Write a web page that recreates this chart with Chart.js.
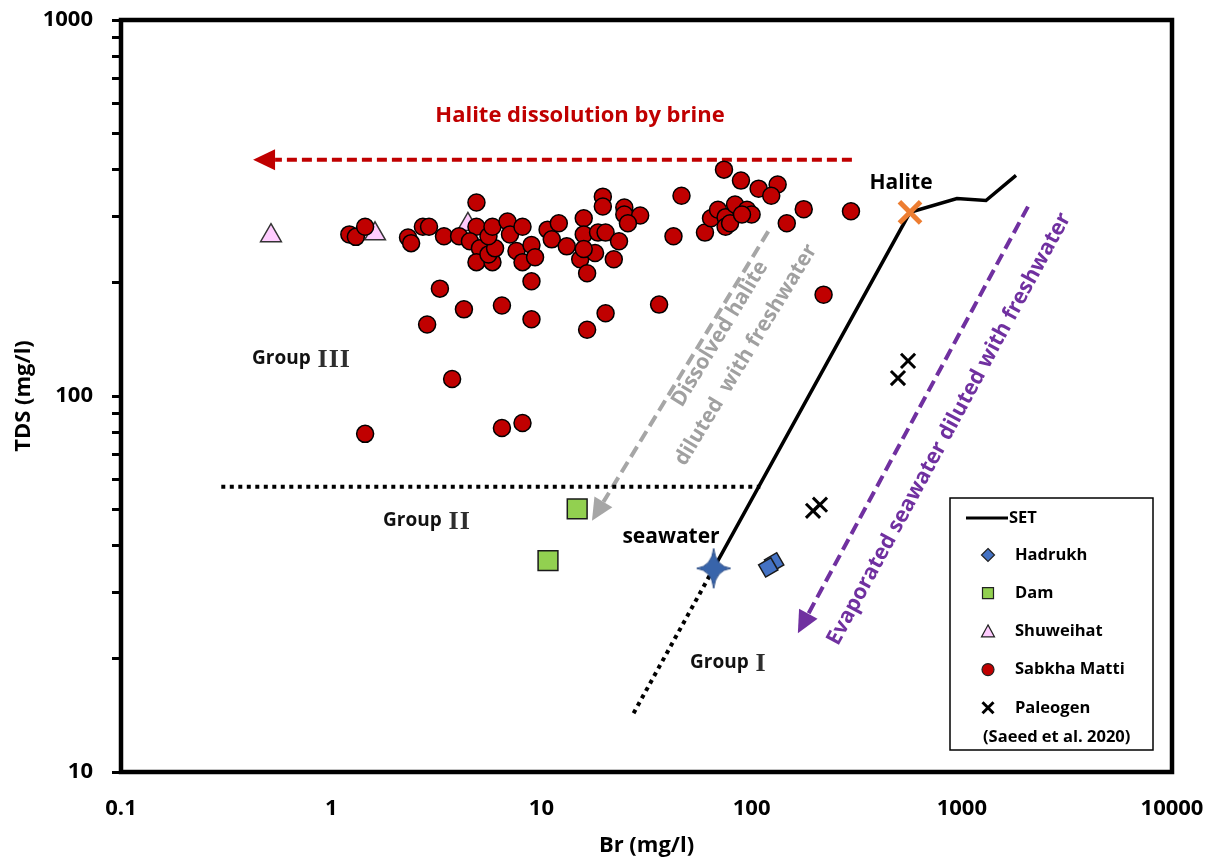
<!DOCTYPE html>
<html><head><meta charset="utf-8">
<script src="https://cdn.jsdelivr.net/npm/chart.js@4/dist/chart.umd.min.js"></script>
<style>html,body{margin:0;padding:0;background:#fff;}canvas{display:block;}</style>
</head><body>
<canvas id="c" width="1212" height="863"></canvas>
<script>
// ---------- data ----------
const xTickValues = [0.1, 1, 10, 100, 1000, 10000];
const yTickValues = [10,20,30,40,50,60,70,80,90,100,200,300,400,500,600,700,800,900,1000];
const yLabelValues = [10, 100, 1000];

const setBr  = [66, 567, 948, 1303, 1811];
const setTDS = [34.8, 308, 335, 331, 386];
const setExtBr  = [66, 27];
const setExtTDS = [34.8, 14.1];
const groupIIBr  = [0.3, 110];
const groupIITDS = [57.4, 57.4];

const hadrukhBr  = [128, 120];
const hadrukhTDS = [36.1, 35.0];
const damBr  = [14.8, 10.75];
const damTDS = [50.1, 36.5];
const shuweihatBr  = [0.517, 1.616, 4.47];
const shuweihatTDS = [267, 270, 286];
const sabkhaBr = [1.22,1.31,1.45,2.32,2.40,2.73,2.92,3.44,4.06,4.91,4.91,4.57,5.10,4.91,5.85,5.60,6.02,5.60,5.85,6.90,
  7.09,7.61,8.13,8.97,9.33,8.13,10.7,11.2,12.1,13.2,15.3,15.9,15.9,16.5,8.97,3.29,4.28,6.49,8.97,2.86,
  16.5,1.45,3.76,6.49,8.13,18.6,20.2,18.0,22.1,23.4,19.6,19.6,24.8,24.8,29.5,25.8,20.2,15.9,36.3,46.4,
  42.5,60.0,64.1,69.2,75.2,83.4,95.1,100,75.2,73.9,89.0,108,133,124,147,177,297,220,79,90];
const sabkhaTDS = [269,265,282,264,255,282,282,266,266,327,282,258,247,227,227,238,247,266,282,291,
  269,243,227,252,234,282,277,261,288,250,231,297,269,212,202,193,170,174,160,155,
  150,79.3,111,82.2,84.8,272,272,240,231,258,339,319,317,304,302,288,166,246,175,341,
  266,272,297,313,299,323,313,304,282,400,374,356,365,341,288,314,310,186,288,304];
const paleogenBr  = [555, 497, 196, 211.5];
const paleogenTDS = [124, 111.6, 49.5, 51.4];
const seawaterBr = [66];
const seawaterTDS = [34.8];
const haliteBr = [567];
const haliteTDS = [308];

// annotation arrows (data units: Br, TDS)
const brineArrowBr  = [300, 0.425];
const brineArrowTDS = [425, 425];
const grayArrowBr  = [120, 17.4];
const grayArrowTDS = [274, 46.6];
const purpleArrowBr  = [2065, 166];
const purpleArrowTDS = [319, 23.4];

// ---------- helpers ----------
const FONT = "'Open Sans', sans-serif";
const pts = (xa, ya) => xa.map((v, i) => ({x: v, y: ya[i]}));
const zeroPad = s => { s.paddingTop = 0; s.paddingBottom = 0; s.paddingLeft = 0; s.paddingRight = 0; };

function makeStar() {
  const c = document.createElement('canvas');
  c.width = 36; c.height = 42;
  const g = c.getContext('2d');
  const cx = 18, cy = 21;
  g.beginPath();
  g.moveTo(cx, 1);
  g.quadraticCurveTo(cx + 2, cy - 2, 35, cy);
  g.quadraticCurveTo(cx + 2, cy + 2, cx, 41);
  g.quadraticCurveTo(cx - 2, cy + 2, 1, cy);
  g.quadraticCurveTo(cx - 2, cy - 2, cx, 1);
  g.closePath();
  g.fillStyle = '#3864AA';
  g.fill();
  g.strokeStyle = '#2A4C86';
  g.lineWidth = 1;
  g.stroke();
  return c;
}

function drawArrow(ctx, sx, sy, xa, ya, color, dash, width) {
  const x0 = sx.getPixelForValue(xa[0]), y0 = sy.getPixelForValue(ya[0]);
  const x1 = sx.getPixelForValue(xa[1]), y1 = sy.getPixelForValue(ya[1]);
  const ang = Math.atan2(y1 - y0, x1 - x0);
  const L = 22, W = 10.5;
  const bx = x1 - Math.cos(ang) * L, by = y1 - Math.sin(ang) * L;
  ctx.save();
  ctx.strokeStyle = color; ctx.lineWidth = width; ctx.setLineDash(dash); ctx.lineCap = 'butt';
  ctx.beginPath(); ctx.moveTo(x0, y0); ctx.lineTo(bx, by); ctx.stroke();
  ctx.setLineDash([]);
  ctx.fillStyle = color;
  ctx.beginPath();
  ctx.moveTo(x1, y1);
  ctx.lineTo(bx + Math.sin(ang) * W, by - Math.cos(ang) * W);
  ctx.lineTo(bx - Math.sin(ang) * W, by + Math.cos(ang) * W);
  ctx.closePath(); ctx.fill();
  ctx.restore();
}

function rotText(ctx, text, cx, cy, deg, font, color) {
  ctx.save();
  ctx.translate(cx, cy); ctx.rotate(deg * Math.PI / 180);
  ctx.font = font; ctx.fillStyle = color; ctx.textAlign = 'center'; ctx.textBaseline = 'middle';
  ctx.fillText(text, 0, 0);
  ctx.restore();
}

function groupText(ctx, word, roman, x, y) {
  ctx.save();
  ctx.textBaseline = 'middle'; ctx.textAlign = 'left';
  ctx.font = "bold 19px " + FONT; ctx.fillStyle = '#111';
  ctx.fillText(word, x, y);
  const w = ctx.measureText(word).width;
  ctx.font = "bold 26px 'Liberation Serif', serif"; ctx.fillStyle = '#2e2e2e';
  if ('letterSpacing' in ctx) ctx.letterSpacing = '1px';
  ctx.fillText(roman, x + w + 2, y + 1);
  ctx.restore();
}

function legendMarker(ctx, kind, x, y) {
  ctx.save();
  ctx.lineWidth = 1.2; ctx.strokeStyle = '#222';
  ctx.beginPath();
  if (kind === 'diamond') {
    ctx.moveTo(x, y - 6.5); ctx.lineTo(x + 6.5, y); ctx.lineTo(x, y + 6.5); ctx.lineTo(x - 6.5, y); ctx.closePath();
    ctx.fillStyle = '#4472C4'; ctx.fill(); ctx.stroke();
  } else if (kind === 'square') {
    ctx.rect(x - 5.5, y - 5.5, 11, 11); ctx.fillStyle = '#92D050'; ctx.fill(); ctx.stroke();
  } else if (kind === 'triangle') {
    ctx.moveTo(x, y - 6.5); ctx.lineTo(x + 6.5, y + 5.5); ctx.lineTo(x - 6.5, y + 5.5); ctx.closePath();
    ctx.fillStyle = '#FFCCFF'; ctx.fill(); ctx.stroke();
  } else if (kind === 'circle') {
    ctx.arc(x, y, 6, 0, Math.PI * 2); ctx.fillStyle = '#C00000'; ctx.fill(); ctx.stroke();
  } else if (kind === 'cross') {
    ctx.lineWidth = 3; ctx.strokeStyle = '#000';
    ctx.moveTo(x - 5.5, y - 5.5); ctx.lineTo(x + 5.5, y + 5.5); ctx.moveTo(x + 5.5, y - 5.5); ctx.lineTo(x - 5.5, y + 5.5); ctx.stroke();
  }
  ctx.restore();
}

const legendItems = [
  {label: 'Hadrukh', kind: 'diamond'},
  {label: 'Dam', kind: 'square'},
  {label: 'Shuweihat', kind: 'triangle'},
  {label: 'Sabkha Matti', kind: 'circle'},
  {label: 'Paleogen', kind: 'cross'}
];

const annotPlugin = {
  id: 'annot',
  beforeDatasetsDraw(chart) {
    const {ctx, scales: {x, y}} = chart;
    drawArrow(ctx, x, y, brineArrowBr, brineArrowTDS, '#C00000', [10, 5], 4);
    drawArrow(ctx, x, y, grayArrowBr, grayArrowTDS, '#A6A6A6', [12, 6], 4);
    drawArrow(ctx, x, y, purpleArrowBr, purpleArrowTDS, '#7030A0', [12, 6], 4);
  },
  afterDraw(chart) {
    const {ctx, chartArea: a} = chart;
    // frame
    ctx.save();
    ctx.strokeStyle = '#000'; ctx.lineWidth = 4.5;
    ctx.strokeRect(a.left, a.top, a.right - a.left, a.bottom - a.top);
    ctx.restore();
    // texts
    ctx.save();
    ctx.textAlign = 'center'; ctx.textBaseline = 'middle';
    ctx.font = "bold 22px " + FONT; ctx.fillStyle = '#C00000';
    ctx.fillText('Halite dissolution by brine', 580, 116);
    ctx.font = "bold 21px " + FONT; ctx.fillStyle = '#000';
    ctx.fillText('Halite', 901, 183);
    ctx.fillText('seawater', 671, 537);
    ctx.restore();
    groupText(ctx, 'Group ', 'III', 252, 359);
    groupText(ctx, 'Group ', 'II', 383, 521);
    groupText(ctx, 'Group ', 'I', 690, 663);
    rotText(ctx, 'Dissolved halite', 720, 334, -58.7, "bold 21px " + FONT, '#A0A0A0');
    rotText(ctx, 'diluted  with freshwater', 746, 355, -58.7, "bold 21px " + FONT, '#A0A0A0');
    rotText(ctx, 'Evaporated seawater diluted with freshwater', 949, 429, -61.5, "bold 21.5px " + FONT, '#7030A0');
    // legend
    const L = 950, T = 498, W = 203, H = 252;
    ctx.save();
    ctx.fillStyle = '#fff'; ctx.fillRect(L, T, W, H);
    ctx.strokeStyle = '#000'; ctx.lineWidth = 1.5; ctx.strokeRect(L, T, W, H);
    ctx.font = "bold 16.5px " + FONT; ctx.fillStyle = '#000'; ctx.textBaseline = 'middle'; ctx.textAlign = 'left';
    ctx.lineWidth = 3; ctx.beginPath(); ctx.moveTo(966, 518); ctx.lineTo(1008, 518); ctx.stroke();
    ctx.fillText('SET', 1009, 518);
    legendItems.forEach((it, i) => {
      const yy = 555 + i * 38.2;
      legendMarker(ctx, it.kind, 988, yy);
      ctx.fillText(it.label, 1015, yy);
    });
    ctx.fillText('(Saeed et al. 2020)', 983, 737);
    ctx.restore();
  }
};

new Chart(document.getElementById('c'), {
  type: 'scatter',
  data: {
    datasets: [
      {label: 'Halite', data: pts(haliteBr, haliteTDS), pointStyle: 'crossRot', pointRadius: 15,
       borderColor: '#ED7D31', borderWidth: 5, backgroundColor: '#ED7D31', order: 0},
      {label: 'seawater', data: pts(seawaterBr, seawaterTDS), pointStyle: makeStar(), pointRadius: 18, order: 0},
      {label: 'Sabkha Matti', data: pts(sabkhaBr, sabkhaTDS), pointStyle: 'circle', pointRadius: 8.5,
       backgroundColor: '#C00000', borderColor: '#000', borderWidth: 1.5, order: 1},
      {label: 'Paleogen', data: pts(paleogenBr, paleogenTDS), pointStyle: 'crossRot', pointRadius: 10,
       borderColor: '#000', borderWidth: 3, order: 2},
      {label: 'Hadrukh', data: pts(hadrukhBr, hadrukhTDS), pointStyle: 'rectRot', pointRadius: 10, rotation: 15,
       backgroundColor: '#4472C4', borderColor: '#1a1a1a', borderWidth: 1.5, order: 2},
      {label: 'Dam', data: pts(damBr, damTDS), pointStyle: 'rect', pointRadius: 14,
       backgroundColor: '#92D050', borderColor: '#1a1a1a', borderWidth: 1.5, order: 2},
      {label: 'Shuweihat', data: pts(shuweihatBr, shuweihatTDS), pointStyle: 'triangle', pointRadius: 12,
       backgroundColor: '#FFCCFF', borderColor: '#333', borderWidth: 1.5, order: 3},
      {label: 'SET', data: pts(setBr, setTDS), showLine: true, pointRadius: 0, borderColor: '#000',
       borderWidth: 3.5, order: 5},
      {label: 'SET ext', data: pts(setExtBr, setExtTDS), showLine: true, pointRadius: 0, borderColor: '#000',
       borderWidth: 4, borderDash: [4, 4.5], order: 5},
      {label: 'Group II limit', data: pts(groupIIBr, groupIITDS), showLine: true, pointRadius: 0, borderColor: '#000',
       borderWidth: 4, borderDash: [4, 4.5], order: 5}
    ]
  },
  options: {
    responsive: false,
    animation: false,
    devicePixelRatio: 1,
    events: [],
    layout: {padding: {left: 0, right: 40, top: 18, bottom: 0}},
    plugins: {legend: {display: false}, tooltip: {enabled: false}},
    scales: {
      x: {
        type: 'logarithmic', min: 0.1, max: 10000,
        afterFit: s => { s.height = 91; zeroPad(s); },
        afterBuildTicks: s => { s.ticks = xTickValues.map(v => ({value: v})); },
        grid: {display: false, drawTicks: false},
        border: {display: false},
        ticks: {autoSkip: false, maxRotation: 0, padding: 24, color: '#000',
          font: {family: FONT, size: 22, weight: 'bold'},
          callback: v => xTickValues.includes(v) ? String(v) : ''},
        title: {display: true, text: 'Br (mg/l)', color: '#000', font: {family: FONT, size: 22, weight: 'bold'},
          padding: {top: 0, bottom: 4}}
      },
      y: {
        type: 'logarithmic', min: 10, max: 1000,
        afterFit: s => { s.width = 121; zeroPad(s); },
        afterBuildTicks: s => { s.ticks = yTickValues.map(v => ({value: v})); },
        grid: {display: true, drawOnChartArea: false, drawTicks: true, tickLength: 9, tickWidth: 3, tickColor: '#000'},
        border: {display: false},
        ticks: {autoSkip: false, padding: 19, color: '#000',
          font: {family: FONT, size: 22, weight: 'bold'},
          callback: v => yLabelValues.includes(v) ? String(v) : ''},
        title: {display: true, text: 'TDS (mg/l)', color: '#000', font: {family: FONT, size: 22, weight: 'bold'},
          padding: {top: 11, bottom: 0}}
      }
    }
  },
  plugins: [annotPlugin]
});
</script>
</body></html>
